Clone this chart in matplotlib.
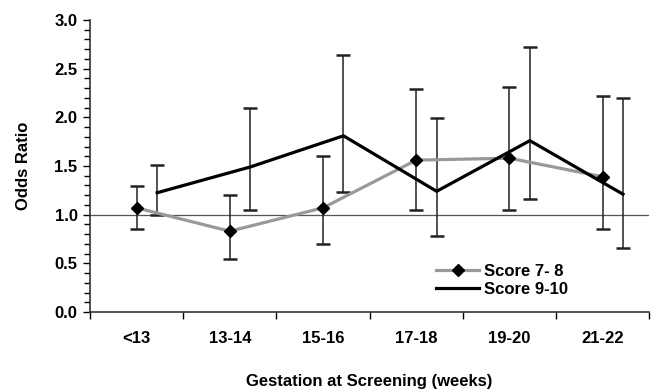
import matplotlib
matplotlib.use('Agg')
import matplotlib.pyplot as plt
import numpy as np
from matplotlib.ticker import MultipleLocator

plt.rcParams['font.family'] = ['Liberation Sans', 'DejaVu Sans']
plt.rcParams['font.weight'] = 'bold'

categories = ['<13', '13-14', '15-16', '17-18', '19-20', '21-22']

or_78 = [1.07, 0.83, 1.07, 1.56, 1.58, 1.39]
lo_78 = [0.85, 0.545, 0.70, 1.05, 1.05, 0.85]
hi_78 = [1.295, 1.20, 1.60, 2.29, 2.31, 2.22]

or_910 = [1.225, 1.49, 1.81, 1.24, 1.76, 1.21]
lo_910 = [1.00, 1.05, 1.23, 0.78, 1.16, 0.655]
hi_910 = [1.51, 2.10, 2.64, 1.99, 2.72, 2.20]

x = np.arange(len(categories))
off = 0.22

fig = plt.figure(figsize=[6.57, 3.91], dpi=100)
ax = fig.add_axes([0.137, 0.202, 0.851, 0.747])

ax.axhline(1.0, color='#555555', linewidth=0.9, zorder=1)

err78 = [np.array(or_78) - np.array(lo_78), np.array(hi_78) - np.array(or_78)]
err910 = [np.array(or_910) - np.array(lo_910), np.array(hi_910) - np.array(or_910)]

ax.errorbar(x, or_78, yerr=err78, fmt='none', ecolor='#222222', elinewidth=1.1,
            capsize=5, capthick=1.8, zorder=2)
ax.errorbar(x + off, or_910, yerr=err910, fmt='none', ecolor='#222222', elinewidth=1.1,
            capsize=5, capthick=1.8, zorder=2)

ax.plot(x, or_78, color='#999999', linewidth=2.3, marker='D', markersize=6.5,
        markerfacecolor='black', markeredgecolor='black', label='Score 7- 8', zorder=3)
ax.plot(x + off, or_910, color='black', linewidth=2.3, label='Score 9-10', zorder=4)

ax.set_xlim(-0.5, 5.5)
ax.set_ylim(0, 3.0)
ax.set_xticks(x)
ax.set_xticklabels(categories)
ax.set_xticks(np.arange(-0.5, 6.0, 1.0), minor=True)
ax.tick_params(axis='x', which='major', length=0, pad=14, labelsize=12)
ax.tick_params(axis='x', which='minor', length=5, width=1, direction='out')
ax.yaxis.set_major_locator(MultipleLocator(0.5))
ax.yaxis.set_minor_locator(MultipleLocator(0.1))
ax.yaxis.set_major_formatter(matplotlib.ticker.FormatStrFormatter('%.1f'))
ax.tick_params(axis='y', which='major', length=5, width=1, labelsize=12, pad=4)
ax.tick_params(axis='y', which='minor', length=4, width=1)

for s in ['top', 'right']:
    ax.spines[s].set_visible(False)
for s in ['left', 'bottom']:
    ax.spines[s].set_linewidth(1.2)
    ax.spines[s].set_color('#333333')

ax.set_ylabel('Odds Ratio', fontsize=12, fontweight='bold', labelpad=17)
ax.set_xlabel('Gestation at Screening (weeks)', fontsize=12, fontweight='bold', labelpad=20)

ax.legend(loc='upper left', bbox_to_anchor=(0.592, 0.215), frameon=False, fontsize=12,
          handlelength=2.6, handletextpad=0.3, labelspacing=0.15)

plt.savefig('out.png', dpi=100)
